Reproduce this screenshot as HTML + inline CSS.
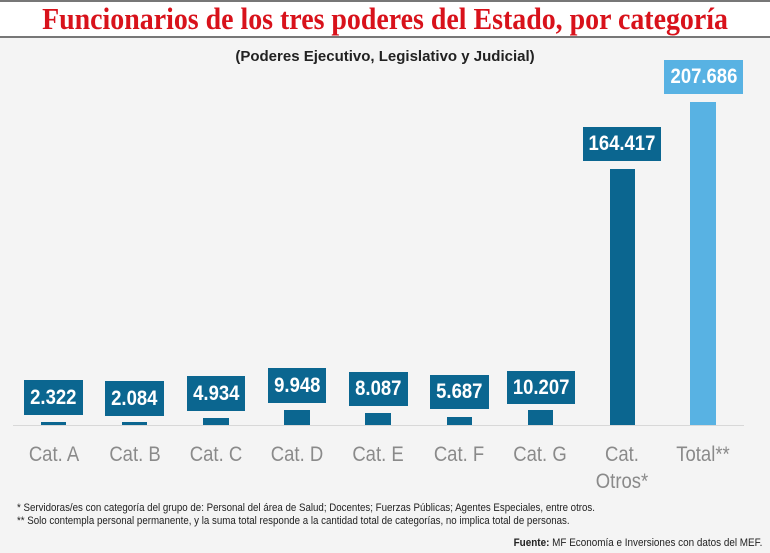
<!DOCTYPE html>
<html><head><meta charset="utf-8"><style>
body{margin:0;width:770px;height:553px;background:#f4f4f4;position:relative;overflow:hidden;font-family:"Liberation Sans",sans-serif}
.t{position:absolute;left:0;top:0;width:770px;height:38px;background:#fff;border-top:2px solid #777;border-bottom:2px solid #777;box-sizing:border-box;overflow:hidden}
.t span{position:absolute;left:50%;top:0;font-family:"Liberation Serif",serif;font-weight:bold;color:#d8121b;font-size:31px;line-height:33px;transform:translateX(-50%) scaleX(0.9);white-space:nowrap}
.s{position:absolute;left:0;width:770px;top:48px;text-align:center;font-weight:bold;font-size:15px;color:#222}
.b{position:absolute;background:#0b6690}
.bx{position:absolute;background:#0b6690;color:#fff;font-weight:bold;font-size:21px;text-align:center}
.bx span{display:inline-block;transform:scaleX(0.88)}
.l{position:absolute;width:90px;text-align:center;color:#8a8a8a;font-size:21px;line-height:27px;transform:scaleX(0.88)}
.f{position:absolute;left:17px;font-size:10.8px;color:#222;transform-origin:left;transform:scaleX(0.9);white-space:nowrap}
</style></head><body>
<div class="t"><span>Funcionarios de los tres poderes del Estado, por categoría</span></div>
<div class="s">(Poderes Ejecutivo, Legislativo y Judicial)</div>
<div style="position:absolute;left:13px;top:425px;width:731px;height:1px;background:#d8d8d8"></div>

<div class="b" style="left:41px;top:422px;width:25px;height:3px"></div>
<div class="bx" style="left:24px;top:380px;width:59px;height:35px;line-height:35px"><span>2.322</span></div>
<div class="b" style="left:122px;top:422px;width:25px;height:3px"></div>
<div class="bx" style="left:105px;top:381px;width:59px;height:35px;line-height:35px"><span>2.084</span></div>
<div class="b" style="left:203px;top:418px;width:26px;height:7px"></div>
<div class="bx" style="left:187px;top:376px;width:58px;height:35px;line-height:35px"><span>4.934</span></div>
<div class="b" style="left:284px;top:410px;width:26px;height:15px"></div>
<div class="bx" style="left:268px;top:368px;width:58px;height:35px;line-height:35px"><span>9.948</span></div>
<div class="b" style="left:365px;top:413px;width:26px;height:12px"></div>
<div class="bx" style="left:349px;top:372px;width:59px;height:34px;line-height:34px"><span>8.087</span></div>
<div class="b" style="left:447px;top:417px;width:25px;height:8px"></div>
<div class="bx" style="left:430px;top:375px;width:59px;height:34px;line-height:34px"><span>5.687</span></div>
<div class="b" style="left:528px;top:410px;width:25px;height:15px"></div>
<div class="bx" style="left:507px;top:371px;width:68px;height:33px;line-height:33px"><span>10.207</span></div>
<div class="b" style="left:610px;top:169px;width:25px;height:256px"></div>
<div class="bx" style="left:583px;top:127px;width:78px;height:34px;line-height:34px"><span>164.417</span></div>
<div class="b" style="left:690px;top:102px;width:26px;height:323px;background:#58b2e3"></div>
<div class="bx" style="left:664px;top:60px;width:79px;height:34px;line-height:34px;background:#58b2e3"><span>207.686</span></div>

<div class="l" style="left:9px;top:441px">Cat. A</div>
<div class="l" style="left:90px;top:441px">Cat. B</div>
<div class="l" style="left:171px;top:441px">Cat. C</div>
<div class="l" style="left:252px;top:441px">Cat. D</div>
<div class="l" style="left:333px;top:441px">Cat. E</div>
<div class="l" style="left:414px;top:441px">Cat. F</div>
<div class="l" style="left:495px;top:441px">Cat. G</div>
<div class="l" style="left:577px;top:441px">Cat.<br>Otros*</div>
<div class="l" style="left:658px;top:441px">Total**</div>

<div class="f" style="top:502px">* Servidoras/es con categoría del grupo de: Personal del área de Salud; Docentes; Fuerzas Públicas; Agentes Especiales, entre otros.</div>
<div class="f" style="top:515px">** Solo contempla personal permanente, y la suma total responde a la cantidad total de categorías, no implica total de personas.</div>
<div style="position:absolute;right:8px;top:537px;font-size:11px;color:#222;transform-origin:right;transform:scaleX(0.9);white-space:nowrap"><b>Fuente:</b> MF Economía e Inversiones con datos del MEF.</div>
</body></html>
